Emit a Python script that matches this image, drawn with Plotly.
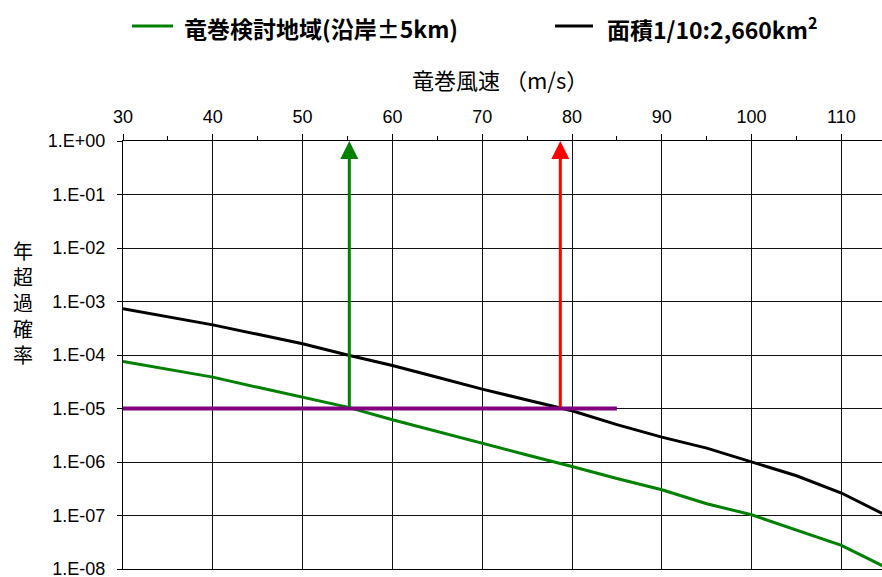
import plotly.graph_objects as go

# Tornado wind speed (m/s) and annual exceedance probability curves
wind_speed = [30, 35, 40, 45, 50, 55, 60, 65, 70, 75, 80, 85, 90, 95, 100, 105, 110, 115]
prob_coast = [7.55e-5, 5.4e-5, 3.86e-5, 2.49e-5, 1.60e-5, 1.06e-5, 6.15e-6, 3.67e-6, 2.19e-6,
              1.35e-6, 8.26e-7, 4.9e-7, 3.03e-7, 1.66e-7, 1.03e-7, 5.42e-8, 2.76e-8, 1.06e-8]
prob_area = [7.3e-4, 5.2e-4, 3.66e-4, 2.44e-4, 1.62e-4, 1.0e-4, 6.35e-5, 3.83e-5, 2.30e-5,
             1.44e-5, 9.06e-6, 5.0e-6, 2.92e-6, 1.82e-6, 1.0e-6, 5.53e-7, 2.63e-7, 1.0e-7]

ref_level = 1e-5
ref_span = [30, 85]
design_speed_coast = 55.2
design_speed_area = 78.7

series_names = ["竜巻検討地域(沿岸±5km)", "面積1/10:2,660km<sup>2</sup>"]
series_colors = ["#008000", "#000000"]

x_ticks = [30, 40, 50, 60, 70, 80, 90, 100, 110]
y_tickvals = [1e0, 1e-1, 1e-2, 1e-3, 1e-4, 1e-5, 1e-6, 1e-7, 1e-8]
y_ticktext = ["1.E+00", "1.E-01", "1.E-02", "1.E-03", "1.E-04", "1.E-05", "1.E-06", "1.E-07", "1.E-08"]

x_title = "竜巻風速 （m/s）"
y_title = "年超過確率"

W, H = 882, 577
ML, MR, MT, MB = 123, 0, 141, 8
PW, PH = W - ML - MR, H - MT - MB


def px_x(px):
    return (px - ML) / PW


def px_y(py):
    return (H - MB - py) / PH


CJK = "Noto Sans CJK JP"
NUM = "Liberation Sans, Arial, sans-serif"

fig = go.Figure()
fig.add_trace(go.Scatter(x=wind_speed, y=prob_coast, mode="lines",
                         line=dict(color=series_colors[0], width=3), showlegend=False))
fig.add_trace(go.Scatter(x=wind_speed, y=prob_area, mode="lines",
                         line=dict(color=series_colors[1], width=3), showlegend=False))
fig.add_trace(go.Scatter(x=ref_span, y=[ref_level, ref_level], mode="lines",
                         line=dict(color="#800080", width=4), showlegend=False))

# Vertical arrows from the reference level up to the top of the chart
for spd, col in [(design_speed_coast, "#008000"), (design_speed_area, "#ff0000")]:
    fig.add_annotation(x=spd, y=0, ax=spd, ay=-5, xref="x", yref="y", axref="x", ayref="y",
                       text="", showarrow=True, arrowhead=2, arrowsize=1.2, arrowwidth=3,
                       arrowcolor=col, standoff=0, startstandoff=0)

# Legend
legend_items = [
    (series_names[0], series_colors[0], 132, 173, 182),
    (series_names[1], series_colors[1], 555, 593, 605),
]
for name, col, lx0, lx1, tx in legend_items:
    fig.add_shape(type="line", xref="paper", yref="paper",
                  x0=px_x(lx0), x1=px_x(lx1), y0=px_y(26), y1=px_y(26),
                  line=dict(color=col, width=3))
    fig.add_annotation(x=px_x(tx), y=px_y(28), xref="paper", yref="paper",
                       xanchor="left", yanchor="middle", showarrow=False, text=name,
                       font=dict(family=CJK, size=23, color="#000", weight="bold"))

fig.add_annotation(x=px_x(410), y=px_y(79), xref="paper", yref="paper",
                   xanchor="left", yanchor="middle", showarrow=False, text=x_title,
                   font=dict(family=CJK, size=22, color="#000"))
fig.add_annotation(x=px_x(23), y=px_y(302), xref="paper", yref="paper",
                   xanchor="center", yanchor="middle", showarrow=False,
                   text="<br>".join(y_title),
                   font=dict(family=CJK, size=20, color="#000"))

fig.update_xaxes(range=[30, 30 + PW / 8.98], side="top", tickvals=x_ticks,
                 showgrid=True, gridcolor="#111", gridwidth=1,
                 showline=True, mirror=True, linecolor="#000", linewidth=1,
                 ticks="outside", ticklen=6, tickcolor="#000", tickwidth=1,
                 minor=dict(dtick=5, tick0=30, ticks="outside", ticklen=4, tickcolor="#000", showgrid=False),
                 tickfont=dict(family=NUM, size=18, color="#000"),
                 ticklabelstandoff=4, zeroline=False, automargin=False)
fig.update_yaxes(type="log", range=[-8, 0], tickvals=y_tickvals, ticktext=y_ticktext,
                 showgrid=True, gridcolor="#111", gridwidth=1,
                 showline=True, linecolor="#000", linewidth=1,
                 ticks="outside", ticklen=5, tickcolor="#000", tickwidth=1,
                 tickfont=dict(family=NUM, size=18, color="#000"),
                 ticklabeloverflow="allow",
                 ticklabelstandoff=8, zeroline=False, automargin=False)

fig.update_layout(width=W, height=H, margin=dict(l=ML, r=MR, t=MT, b=MB),
                  paper_bgcolor="#fff", plot_bgcolor="#fff", showlegend=False)

fig.write_html("out.html")
